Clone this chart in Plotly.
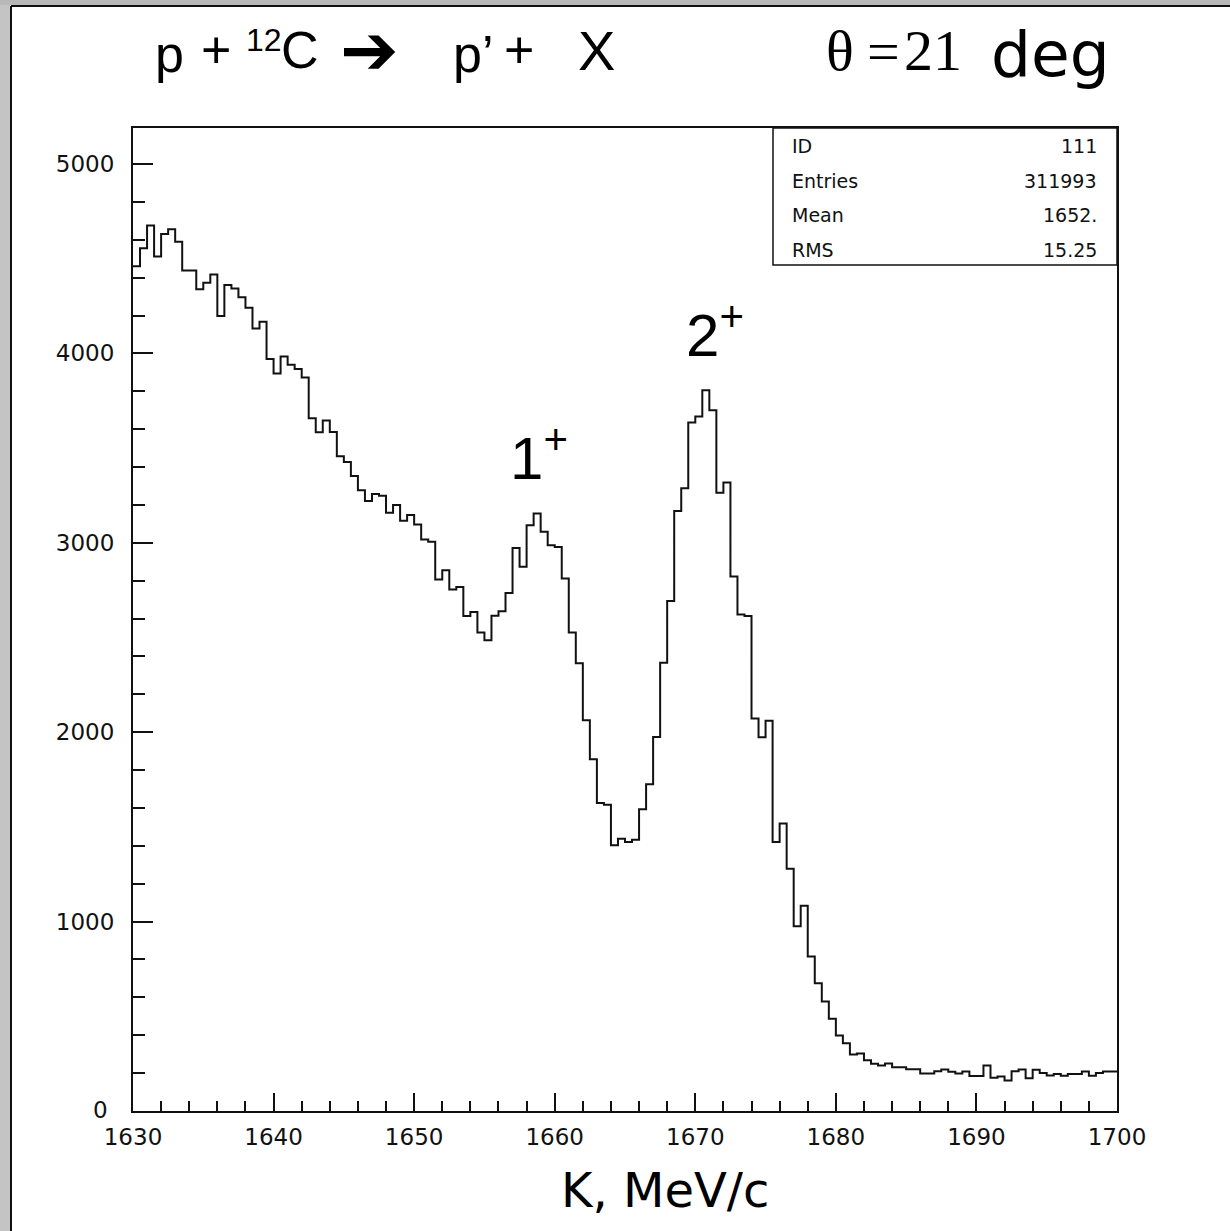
import numpy as np
import plotly.graph_objects as go

# ---- data (histogram ID 111) ----
k_min = 1630.0
k_max = 1700.0
bin_width = 0.5
counts = [
    4460, 4555, 4675, 4512, 4630, 4655, 4590, 4437, 4437, 4338,
    4373, 4417, 4197, 4361, 4343, 4296, 4241, 4132, 4167, 3970,
    3894, 3984, 3940, 3918, 3873, 3657, 3583, 3646, 3585, 3457,
    3427, 3352, 3278, 3221, 3257, 3248, 3158, 3199, 3116, 3147,
    3097, 3017, 3005, 2806, 2855, 2753, 2767, 2614, 2635, 2526,
    2485, 2615, 2638, 2735, 2972, 2873, 3093, 3155, 3058, 2987,
    2978, 2811, 2526, 2364, 2063, 1857, 1626, 1617, 1403, 1438,
    1420, 1432, 1593, 1725, 1975, 2366, 2693, 3168, 3288, 3635,
    3667, 3806, 3700, 3264, 3318, 2822, 2621, 2614, 2072, 1973,
    2061, 1420, 1518, 1279, 975, 1084, 816, 675, 578, 487,
    399, 358, 298, 303, 268, 249, 240, 251, 231, 231,
    220, 220, 198, 198, 210, 219, 207, 198, 208, 185,
    185, 240, 175, 182, 161, 210, 219, 173, 218, 200,
    188, 196, 186, 196, 196, 209, 186, 200, 209, 209,
]
stats_labels = ["ID", "Entries", "Mean", "RMS"]
stats_values = ["111", "311993", "1652.", "15.25"]
x_tick_values = [1630, 1640, 1650, 1660, 1670, 1680, 1690, 1700]
y_tick_values = [1000, 2000, 3000, 4000, 5000]
y_zero_label = "0"
peak_labels = ["1<sup>+</sup>", "2<sup>+</sup>"]
peak_x = [1658.9, 1671.4]
peak_y = [3470, 4120]
x_title = "K, MeV/c"

# ---- geometry (screen pixels) ----
W, H = 1230, 1231
L, R, T, B = 133, 113, 128, 120
PW = W - L - R
PH = H - T - B


def px(xp):
    return (xp - L) / PW


def py(yp):
    return (H - B - yp) / PH


edges = k_min + bin_width * np.arange(len(counts) + 1)
xs = list(edges)
ys = list(counts) + [counts[-1]]

fig = go.Figure()
fig.add_trace(go.Scatter(
    x=xs, y=ys, mode="lines", line=dict(shape="hv", color="#111111", width=2),
    hoverinfo="skip", showlegend=False,
))

tick_font = dict(family="DejaVu Sans", size=23, color="#111111")
fig.update_xaxes(
    range=[k_min, k_max], tickvals=x_tick_values, ticks="inside", ticklen=18,
    tickwidth=1.5, tickcolor="#111111",
    minor=dict(dtick=2, ticks="inside", ticklen=10, tickwidth=1.5, tickcolor="#111111"),
    showline=True, linecolor="#111111", linewidth=2, mirror=True,
    showgrid=False, zeroline=False, tickfont=tick_font, ticklabelstandoff=4,
)
fig.update_yaxes(
    range=[0, 5190], tickvals=y_tick_values, ticks="inside", ticklen=20,
    tickwidth=1.5, tickcolor="#111111",
    minor=dict(dtick=200, ticks="inside", ticklen=12, tickwidth=1.5, tickcolor="#111111"),
    showline=True, linecolor="#111111", linewidth=2, mirror=True,
    showgrid=False, zeroline=False, tickfont=tick_font, ticklabelstandoff=12,
)

shapes = [
    # window frame
    dict(type="rect", xref="paper", yref="paper", x0=px(0), x1=px(10), y0=py(H), y1=py(0),
         fillcolor="#c4c4c4", line=dict(width=0), layer="below"),
    dict(type="rect", xref="paper", yref="paper", x0=px(0), x1=px(W), y0=py(5), y1=py(0),
         fillcolor="#b8b8b8", line=dict(width=0), layer="below"),
    dict(type="line", xref="paper", yref="paper", x0=px(11), x1=px(11), y0=py(6), y1=py(H),
         line=dict(color="#111111", width=2)),
    dict(type="line", xref="paper", yref="paper", x0=px(11), x1=px(W), y0=py(6), y1=py(6),
         line=dict(color="#111111", width=2)),
    # stats box
    dict(type="rect", xref="paper", yref="paper", x0=px(773), x1=1, y0=py(265), y1=1,
         fillcolor="white", line=dict(color="#111111", width=1.5)),
]

annotations = []
stat_font = dict(family="DejaVu Sans", size=19, color="#111111")
for i, (lab, val) in enumerate(zip(stats_labels, stats_values)):
    yc = py(146 + 34.5 * i)
    annotations.append(dict(xref="paper", yref="paper", x=px(790), y=yc, text=lab,
                            showarrow=False, xanchor="left", yanchor="middle", font=stat_font))
    annotations.append(dict(xref="paper", yref="paper", x=px(1099), y=yc, text=val,
                            showarrow=False, xanchor="right", yanchor="middle", font=stat_font))

annotations.append(dict(xref="paper", yref="paper", x=px(100), y=py(1110), text=y_zero_label,
                        showarrow=False, xanchor="center", yanchor="middle", font=tick_font))

for lab, xv, yv in zip(peak_labels, peak_x, peak_y):
    annotations.append(dict(xref="x", yref="y", x=xv, y=yv, text=lab, showarrow=False,
                            font=dict(family="Liberation Sans", size=60, color="#000000")))

# title tokens: (text, center x px, center y px, font family, size)
title_tokens = [
    ("p", 169, 54, "Liberation Sans", 52),
    ("+", 216, 50, "Liberation Sans", 52),
    ("12", 264, 40, "Liberation Sans", 32),
    ("C", 300, 50, "Liberation Sans", 52),
    ("\u2794", 369, 50, "DejaVu Sans", 70),
    ("p\u2019", 473, 54, "Liberation Sans", 52),
    ("+", 519, 50, "Liberation Sans", 52),
    ("X", 596, 50, "Liberation Sans", 56),
    ("\u03b8", 840, 50, "Liberation Serif", 58),
    ("=", 883, 52, "Liberation Serif", 58),
    ("21", 933, 50, "Liberation Serif", 58),
    ("deg", 1050, 55, "DejaVu Sans", 63),
]
for txt, cx, cy, fam, sz in title_tokens:
    annotations.append(dict(xref="paper", yref="paper", x=px(cx), y=py(cy), text=txt,
                            showarrow=False, xanchor="center", yanchor="middle",
                            font=dict(family=fam, size=sz, color="#000000")))

annotations.append(dict(xref="paper", yref="paper", x=px(665), y=py(1190), text=x_title,
                        showarrow=False, xanchor="center", yanchor="middle",
                        font=dict(family="DejaVu Sans", size=48, color="#000000")))

fig.update_layout(
    width=W, height=H, margin=dict(l=L, r=R, t=T, b=B),
    paper_bgcolor="white", plot_bgcolor="white",
    shapes=shapes, annotations=annotations, showlegend=False,
)

fig.write_html("out.html", config={"displayModeBar": False},
               post_script="document.body.style.margin='0px';")
